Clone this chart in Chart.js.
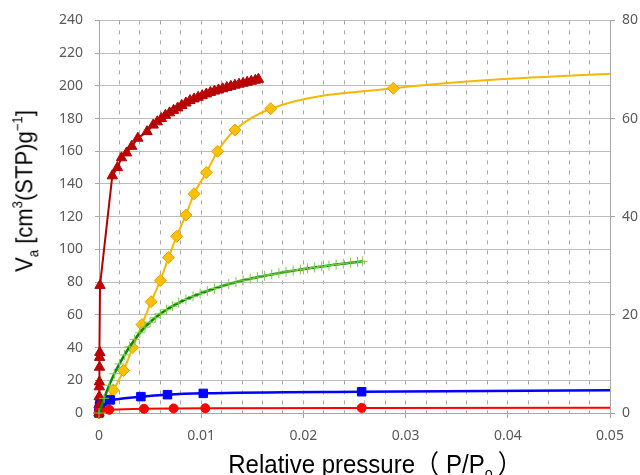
<!DOCTYPE html>
<html>
<head>
<meta charset="utf-8">
<script src="https://cdn.jsdelivr.net/npm/chart.js@4/dist/chart.umd.min.js"></script>
<style>
  body { margin: 0; background: #fff; }
  #wrap { position: relative; width: 640px; height: 475px; overflow: hidden; }
  .title { position: absolute; white-space: nowrap; color: #000;
           font-family: "Liberation Sans", "Noto Sans CJK JP", sans-serif; }
  .title sub, .title sup { font-size: 60%; line-height: 0; }
  #ytitle { left: 24px; top: 191px; font-size: 22px;
            transform: translate(-50%, -50%) rotate(-90deg) scale(1, 1.12); }
  #xtitle { left: 375px; top: 462px; font-size: 24px;
            transform: translate(-50%, -50%) scale(1, 1.08); }
  #xtitle .gap { margin-left: 7px; }
  #xtitle .end { margin-left: 5px; }
</style>
</head>
<body>
<div id="wrap">
  <canvas id="chart" width="640" height="475"></canvas>
  <div id="ytitle" class="title">V<sub>a</sub> [cm<sup>3</sup>(STP)g<sup>−1</sup>]</div>
  <div id="xtitle" class="title">Relative pressure（<span class="gap">P/P<sub>0</sub></span><span class="end">）</span></div>
</div>
<script>
// values
const darkRedX = [0, 0.00001, 0.00002, 0.00003, 0.00004, 0.00005, 0.00006, 0.00008, 0.0001,
  0.0013, 0.0018, 0.0022, 0.0027, 0.0032, 0.0038, 0.0047, 0.0053, 0.0057, 0.0061, 0.0065,
  0.0069, 0.0073, 0.0077, 0.0081, 0.0085, 0.0089, 0.0093, 0.0097, 0.0101, 0.0105, 0.0109,
  0.0113, 0.0117, 0.0121, 0.0125, 0.0129, 0.0133, 0.0137, 0.0141, 0.0145, 0.0149, 0.0153, 0.0156];
const darkRedY = [0, 5, 10, 16, 19, 28, 34, 37, 78,
  145, 150, 156, 159, 163, 168, 172, 176, 178, 180, 182,
  183.5, 185, 186.5, 188, 189.5, 191, 192, 193, 194, 195, 196,
  196.8, 197.5, 198.2, 199, 199.7, 200.4, 201, 201.6, 202.2, 202.8, 203.4, 204];

const yellowX = [0, 0.0005, 0.0014, 0.0024, 0.0033, 0.0042, 0.0051, 0.006, 0.0068, 0.0076,
  0.0085, 0.0093, 0.0105, 0.0116, 0.0133, 0.0168, 0.0288, 0.06];
const yellowY = [0, 5, 14, 26, 40, 54, 68, 81, 95, 108,
  121, 134, 147, 160, 173, 186, 198.5, 210.5];

const greenX = [0, 0.0005, 0.001, 0.0015, 0.002, 0.0025, 0.003, 0.0035, 0.004, 0.0045,
  0.005, 0.0055, 0.006, 0.0066, 0.0072, 0.0078, 0.0085, 0.0092, 0.0099, 0.0106,
  0.0113, 0.012, 0.0127, 0.0134, 0.0141, 0.0148, 0.0155, 0.0162, 0.0169, 0.0176,
  0.0183, 0.019, 0.0197, 0.0204, 0.0211, 0.0218, 0.0225, 0.0232, 0.0239, 0.0246,
  0.0253, 0.0258];
const greenY = [0, 9, 17, 24, 30, 35.5, 40.5, 45, 49, 52.5,
  55.5, 58.2, 60.6, 63.1, 65.3, 67.3, 69.4, 71.3, 73, 74.6,
  76.1, 77.5, 78.8, 80, 81.1, 82.1, 83, 83.9, 84.7, 85.5,
  86.3, 87, 87.7, 88.4, 89, 89.6, 90.2, 90.8, 91.3, 91.8,
  92.3, 92.7];

const blueX = [0, 0.00002, 0.00005, 0.0001, 0.0003, 0.0011, 0.0041, 0.0067, 0.0102, 0.0257, 0.07];
const blueY = [0, 2, 4, 5.5, 7, 8, 10, 11.2, 12, 13, 14.5];

const redX = [0, 0.00003, 0.0001, 0.001, 0.0044, 0.0073, 0.0104, 0.0257, 0.07];
const redY = [0, 1, 1.5, 2, 2.6, 2.8, 2.9, 3.1, 3.4];

const leftTicks = [0, 240, 20];
const rightTicks = [0, 80, 20];
const xRange = [0, 0.05, 0.002];

const pts = (xs, ys) => xs.map((x, i) => ({ x: x, y: ys[i] }));
const isMajor = v => Math.round(v * 1000) % 10 === 0;

const axisGray = '#a6a6a6';
const labelGray = '#595959';

Chart.defaults.font.family = '"Noto Sans", "Liberation Sans", sans-serif';
Chart.defaults.font.size = 14;
Chart.defaults.color = labelGray;

const clip = { left: 10, top: 10, right: 0, bottom: 10 };

new Chart(document.getElementById('chart'), {
  type: 'line',
  data: {
    datasets: [
      {
        data: pts(greenX, greenY),
        borderColor: '#008a00',
        borderWidth: 2.5,
        pointStyle: 'cross',
        pointRadius: 5,
        pointBorderColor: '#7cc84a',
        pointBorderWidth: 1,
        cubicInterpolationMode: 'monotone',
        clip: clip,
        order: 0
      },
      {
        data: pts(darkRedX, darkRedY),
        borderColor: '#b00000',
        backgroundColor: '#c00000',
        borderWidth: 2,
        pointStyle: 'triangle',
        pointRadius: 6,
        pointBorderColor: '#b00000',
        pointBorderWidth: 1,
        tension: 0,
        clip: clip,
        order: 1
      },
      {
        data: pts(redX, redY),
        borderColor: '#ff0000',
        backgroundColor: '#ff0000',
        borderWidth: 2,
        pointStyle: 'circle',
        pointRadius: 4.5,
        pointBorderWidth: 1,
        cubicInterpolationMode: 'monotone',
        clip: clip,
        order: 2
      },
      {
        data: pts(blueX, blueY),
        borderColor: '#0000ff',
        backgroundColor: '#0000ff',
        borderWidth: 2.5,
        pointStyle: 'rect',
        pointRadius: 6,
        pointBorderWidth: 1,
        cubicInterpolationMode: 'monotone',
        clip: clip,
        order: 3
      },
      {
        data: pts(yellowX, yellowY),
        borderColor: '#f5b800',
        backgroundColor: '#ffc000',
        borderWidth: 2,
        pointStyle: 'rectRot',
        pointRadius: 6,
        pointBorderColor: '#e8a000',
        pointBorderWidth: 1,
        cubicInterpolationMode: 'monotone',
        clip: clip,
        order: 4
      }
    ]
  },
  options: {
    responsive: false,
    animation: false,
    layout: { padding: { top: 20, left: 0, right: 0, bottom: 0 } },
    plugins: {
      legend: { display: false },
      tooltip: { enabled: false }
    },
    scales: {
      x: {
        type: 'linear',
        min: xRange[0],
        max: xRange[1],
        afterFit: s => { s.height = 62; },
        ticks: {
          stepSize: xRange[2],
          autoSkip: false,
          maxRotation: 0,
          padding: 10,
          callback: v => {
            if (!isMajor(v)) return '';
            const k = Math.round(v * 1000);
            return k === 0 ? '0' : String(k / 1000);
          }
        },
        grid: {
          color: c => (c.tick && (c.tick.value === 0 || c.tick.value >= 0.05)) ? 'transparent' : '#a8a8a8',
          tickColor: c => (c.tick && isMajor(c.tick.value)) ? axisGray : 'transparent',
          tickLength: 5
        },
        border: { display: true, color: axisGray, dash: [4, 6] }
      },
      y: {
        position: 'left',
        min: leftTicks[0],
        max: leftTicks[1],
        afterFit: s => { s.width = 99; },
        ticks: { stepSize: leftTicks[2], padding: 12 },
        grid: { color: '#bcbcbc', tickColor: axisGray, tickLength: 4 },
        border: { display: true, color: axisGray }
      },
      y2: {
        position: 'right',
        min: rightTicks[0],
        max: rightTicks[1],
        afterFit: s => { s.width = 30; },
        ticks: { stepSize: rightTicks[2], padding: 7 },
        grid: { drawOnChartArea: false, tickColor: axisGray, tickLength: 5 },
        border: { display: true, color: axisGray }
      }
    }
  }
});
</script>
</body>
</html>
